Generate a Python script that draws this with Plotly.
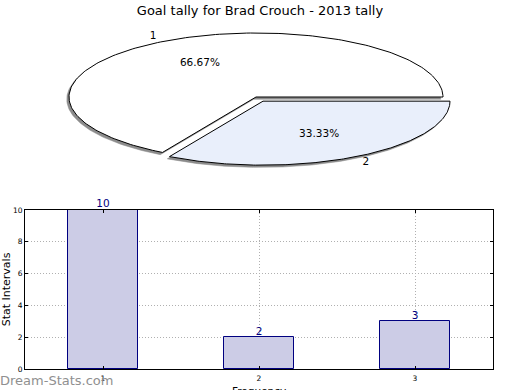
import numpy as np
import plotly.graph_objects as go

# ---------------- data ----------------
chart_title = "Goal tally for Brad Crouch - 2013 tally"
pie_labels = ["1", "2"]
pie_values = [2, 1]
pie_colors = ["#ffffff", "#e9effb"]
pie_explode = [0.0, 0.075]

bar_categories = [1, 2, 3]
bar_values = [10, 2, 3]
bar_tick_labels = ["1", "2", "3"]
y_ticks = [0, 2, 4, 6, 8, 10]
x_title = "Frequency"
y_title = "Stat Intervals"
watermark = "Dream-Stats.com"

FONT = "DejaVu Sans"
W, H = 520, 390

fig = go.Figure()

# ---------------- pie (elliptical, drawn on its own axes) ----------------
vals = np.array(pie_values, dtype=float)
fracs = vals / vals.sum()
ends = np.cumsum(fracs) * 2 * np.pi
starts = ends - fracs * 2 * np.pi

slices = []
for i in range(len(vals)):
    mid = (starts[i] + ends[i]) / 2
    ox = pie_explode[i] * np.cos(mid)
    oy = pie_explode[i] * np.sin(mid)
    t = np.linspace(starts[i], ends[i], 200)
    xs = np.concatenate([[ox], ox + np.cos(t), [ox]])
    ys = np.concatenate([[oy], oy + np.sin(t), [oy]])
    slices.append((xs, ys, mid, ox, oy))

# shadows
for xs, ys, mid, ox, oy in slices:
    fig.add_trace(go.Scatter(x=xs - 0.012, y=ys - 0.035, mode="lines", fill="toself",
                             fillcolor="#8c8c8c", line=dict(color="#8c8c8c", width=0.5),
                             xaxis="x2", yaxis="y2", hoverinfo="skip", showlegend=False))
# slices
for i, (xs, ys, mid, ox, oy) in enumerate(slices):
    fig.add_trace(go.Scatter(x=xs, y=ys, mode="lines", fill="toself",
                             fillcolor=pie_colors[i], line=dict(color="black", width=1),
                             xaxis="x2", yaxis="y2", name=pie_labels[i], showlegend=False))
# labels
lx, ly, lt = [], [], []
for i, (xs, ys, mid, ox, oy) in enumerate(slices):
    lx += [ox + 1.1 * np.cos(mid), ox + 0.6 * np.cos(mid)]
    ly += [oy + 1.1 * np.sin(mid), oy + 0.6 * np.sin(mid)]
    lt += [pie_labels[i], f"{100 * fracs[i]:.2f}%"]
fig.add_trace(go.Scatter(x=lx, y=ly, text=lt, mode="text", textposition="middle center",
                         textfont=dict(family=FONT, size=10.5, color="black"),
                         xaxis="x2", yaxis="y2", hoverinfo="skip", showlegend=False))

# ---------------- bars ----------------
fig.add_trace(go.Bar(x=bar_categories, y=bar_values, width=0.45,
                     marker=dict(color="#ccccE6", line=dict(color="#000080", width=1)),
                     showlegend=False))
fig.add_trace(go.Scatter(x=bar_categories, y=bar_values, text=[str(v) for v in bar_values],
                         mode="text", textposition="top center", cliponaxis=False,
                         textfont=dict(family=FONT, size=10.5, color="#000080"),
                         hoverinfo="skip", showlegend=False))

cx, rx = 256, 187
cy, ry = 97, 64
fig.update_layout(
    width=W, height=H,
    margin=dict(l=0, r=0, t=0, b=0),
    paper_bgcolor="white", plot_bgcolor="white",
    font=dict(family=FONT, color="black"),
    title=dict(text=chart_title, x=0.5, xanchor="center", y=1 - 10 / H, yanchor="middle",
               font=dict(family=FONT, size=13, color="black")),
    xaxis2=dict(domain=[0, 1], range=[-cx / rx, (W - cx) / rx], visible=False,
                anchor="y2", fixedrange=True, automargin=False),
    yaxis2=dict(domain=[0.5, 1], range=[-(195 - cy) / ry, cy / ry], visible=False,
                anchor="x2", fixedrange=True, automargin=False),
    xaxis=dict(domain=[25 / W, 493 / W], range=[0.5, 3.5], anchor="y", automargin=False,
               tickvals=bar_categories, ticktext=bar_tick_labels,
               tickfont=dict(size=7.5), ticks="inside", ticklen=3, tickcolor="black",
               ticklabelstandoff=2,
               showline=True, linecolor="black", linewidth=1, mirror="ticks",
               showgrid=True, gridcolor="#b0b0b0", griddash="1px,2px", gridwidth=1,
               zeroline=False),
    yaxis=dict(domain=[(H - 369) / H, (H - 210) / H], range=[0, 10], anchor="x",
               automargin=False,
               tickvals=y_ticks, tickfont=dict(size=7.5), ticks="inside", ticklen=3,
               tickcolor="black",
               showline=True, linecolor="black", linewidth=1, mirror="ticks",
               showgrid=True, gridcolor="#b0b0b0", griddash="1px,2px", gridwidth=1,
               zeroline=False,
               title=dict(text=y_title, font=dict(size=11), standoff=6)),
    bargap=0,
)

# x-axis title (sits at the bottom edge, partly cut as in the original)
fig.add_annotation(text=x_title, xref="x domain", yref="paper", x=0.5, y=(H - 383) / H,
                   xanchor="center", yanchor="top", showarrow=False,
                   font=dict(family=FONT, size=10.5, color="black"))

fig.add_annotation(text=watermark, xref="paper", yref="paper", x=0, y=(H - 380) / H,
                   xanchor="left", yanchor="middle", showarrow=False, xshift=-2,
                   font=dict(family=FONT, size=13, color="#909090"))

fig.write_html("out.html", config={"displayModeBar": False},
               post_script="document.body.style.margin='0px';document.body.style.overflow='hidden';")
